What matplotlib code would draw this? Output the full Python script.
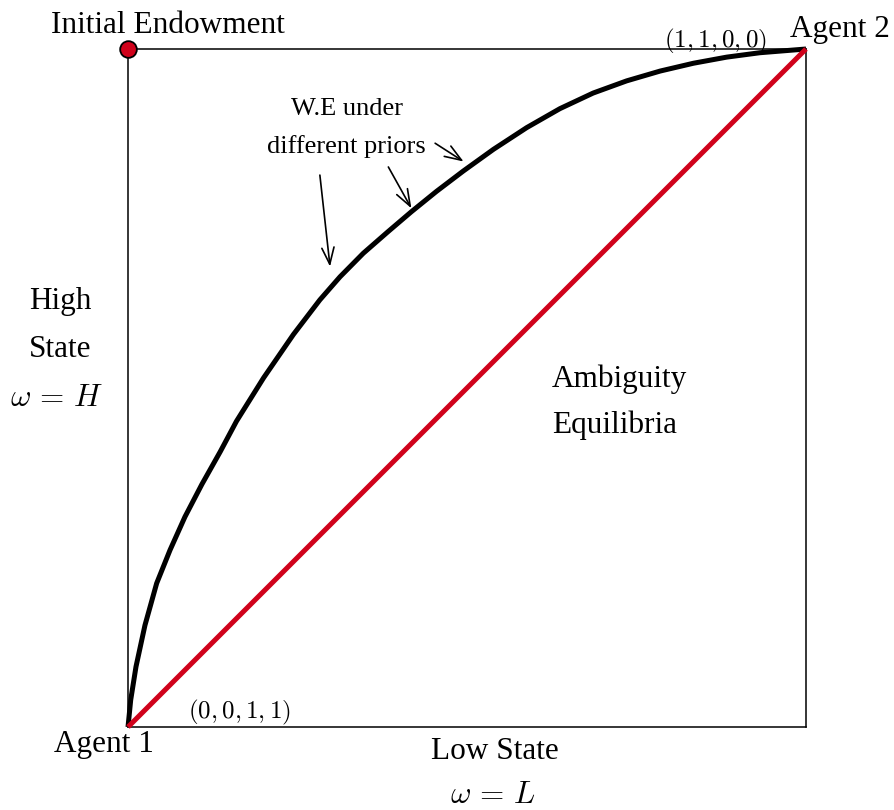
import matplotlib
matplotlib.use('Agg')
import matplotlib.pyplot as plt
import numpy as np

plt.rcParams['font.family'] = ['Liberation Serif', 'DejaVu Serif']
plt.rcParams['mathtext.fontset'] = 'cm'

# Walrasian equilibria curve (box normalised to 0..1)
we_x = [0.0, 0.004, 0.0118, 0.025, 0.0423, 0.062, 0.084, 0.109, 0.136, 0.160,
        0.200, 0.244, 0.283, 0.3127, 0.347, 0.384, 0.418, 0.455, 0.4945, 0.539,
        0.588, 0.637, 0.686, 0.7355, 0.785, 0.834, 0.883, 0.932, 1.0]
we_y = [0.0, 0.040, 0.089, 0.150, 0.212, 0.261, 0.310, 0.358, 0.406, 0.451,
        0.515, 0.579, 0.630, 0.664, 0.6987, 0.731, 0.760, 0.790, 0.820, 0.852,
        0.884, 0.912, 0.935, 0.953, 0.9675, 0.979, 0.988, 0.9945, 1.0]

# ambiguity equilibria: the diagonal
diag_x = [0.0, 1.0]
diag_y = [0.0, 1.0]

# initial endowment
endow = (0.0, 1.0)

# arrows pointing at the curve: (start, end)
arrows = [((0.283, 0.814), (0.298, 0.679)),
          ((0.384, 0.826), (0.418, 0.765)),
          ((0.453, 0.861), (0.495, 0.834))]

red = '#D0021B'

fig = plt.figure(figsize=(8.95, 8.10), dpi=100)
ax = fig.add_axes([128 / 895, 83 / 810, 678 / 895, 678 / 810])
ax.set_xlim(0, 1)
ax.set_ylim(0, 1)
ax.set_xticks([])
ax.set_yticks([])
for s in ax.spines.values():
    s.set_linewidth(1.1)
    s.set_color('black')

ax.plot(we_x, we_y, color='black', linewidth=3.6, clip_on=False, zorder=3,
        solid_capstyle='butt', solid_joinstyle='round')
ax.plot(diag_x, diag_y, color=red, linewidth=3.6, clip_on=False, zorder=4,
        solid_capstyle='butt')
ax.plot(*endow, marker='o', markersize=12, markerfacecolor=red,
        markeredgecolor='black', markeredgewidth=1.3, clip_on=False, zorder=5)

for (x0, y0), (x1, y1) in arrows:
    ax.annotate('', xy=(x1, y1), xytext=(x0, y0),
                arrowprops=dict(arrowstyle='->,head_length=0.6,head_width=0.22',
                                lw=1.2, color='black', shrinkA=0, shrinkB=0,
                                mutation_scale=20))

fs = 22.5
ax.text(0.059, 1.0236, 'Initial Endowment', fontsize=fs, ha='center', va='baseline')
ax.text(0.976, 1.0177, 'Agent 2', fontsize=fs, ha='left', va='baseline')
ax.text(0.8665, 1.0025, r'$(1,1,0,0)$', fontsize=18, ha='center', va='baseline')
ax.text(0.323, 0.9027, 'W.E under', fontsize=19, ha='center', va='baseline')
ax.text(0.3215, 0.846, 'different priors', fontsize=19, ha='center', va='baseline')
ax.text(-0.1003, 0.616, 'High', fontsize=fs, ha='center', va='baseline')
ax.text(-0.1003, 0.545, 'State', fontsize=fs, ha='center', va='baseline')
ax.text(-0.1047, 0.4735, r'$\omega\,=\,H$', fontsize=fs, ha='center', va='baseline')
ax.text(0.6254, 0.502, 'Ambiguity', fontsize=fs, ha='left', va='baseline')
ax.text(0.6254, 0.433, 'Equilibria', fontsize=fs, ha='left', va='baseline')
ax.text(-0.036, -0.0369, 'Agent 1', fontsize=fs, ha='center', va='baseline')
ax.text(0.165, 0.0128, r'$(0,0,1,1)$', fontsize=18, ha='center', va='baseline')
ax.text(0.541, -0.0476, 'Low State', fontsize=fs, ha='center', va='baseline')
ax.text(0.538, -0.112, r'$\omega\,=\,L$', fontsize=fs, ha='center', va='baseline')

fig.savefig('out.png', dpi=100)
